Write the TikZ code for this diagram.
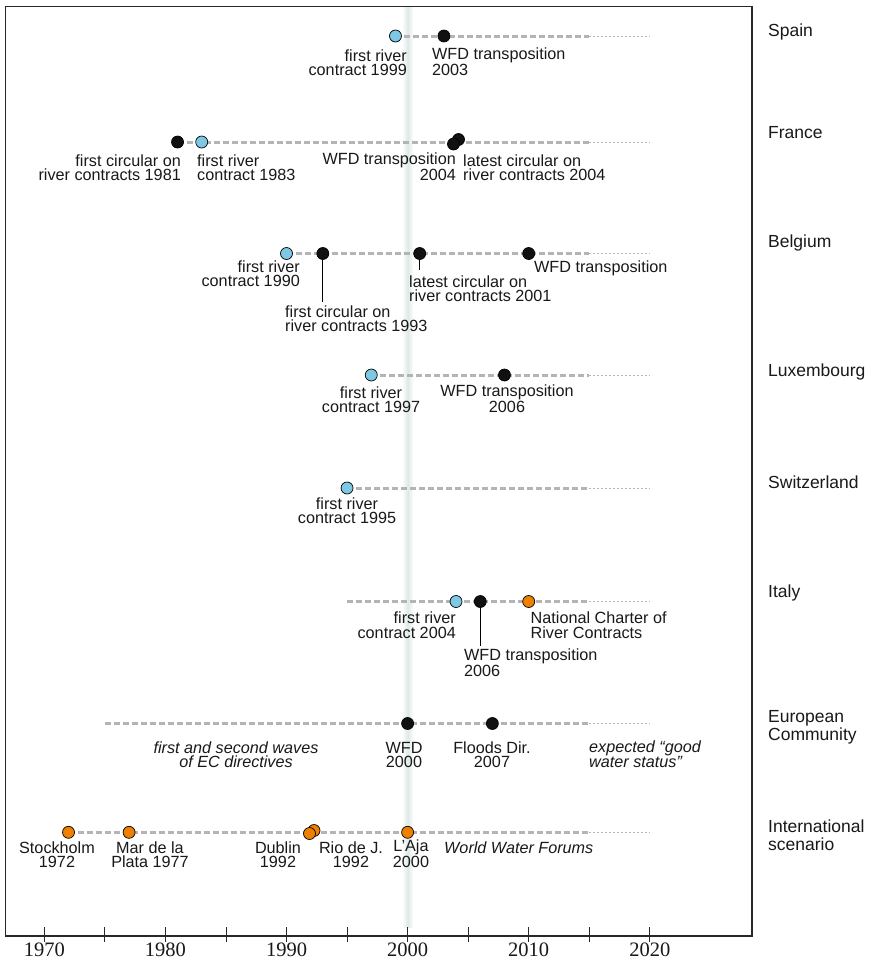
\documentclass[tikz,border=0pt]{standalone}
\usepackage{fontspec}
\setmainfont{Liberation Sans}
\newfontfamily\yearfont{Liberation Serif}
\definecolor{evblue}{RGB}{126,200,227}
\definecolor{evorange}{RGB}{238,128,0}
\definecolor{evblack}{RGB}{17,17,17}
\definecolor{tlgray}{RGB}{180,180,180}
\definecolor{bandc}{RGB}{222,233,231}
\definecolor{framec}{RGB}{40,40,40}
\definecolor{txt}{RGB}{25,25,25}
\begin{document}
\begin{tikzpicture}[x=1pt,y=-1pt,
  ev/.style={circle, draw=black, line width=0.7pt, minimum size=12pt, inner sep=0pt},
  evb/.style={ev, fill=evblue},
  evk/.style={ev, fill=evblack},
  evo/.style={ev, fill=evorange},
  tl/.style={draw=tlgray, line width=3pt, dash pattern=on 6pt off 3pt},
  tlend/.style={draw=tlgray, line width=0.9pt, dash pattern=on 1.5pt off 2.5pt},
  lbl/.style={font=\fontsize{16.2}{14.5}\selectfont, inner sep=0pt, text=txt},
  lbli/.style={lbl, font=\fontsize{16.2}{14.5}\selectfont\itshape},
  ctry/.style={font=\fontsize{17.5}{18.5}\selectfont, inner sep=0pt, anchor=base west, align=left, text=txt},
  lead/.style={draw=black, line width=0.7pt},
  yr/.style={font=\yearfont\fontsize{20.5}{22}\selectfont, inner sep=0pt, anchor=base, text=txt}
]
\useasboundingbox (0,0) rectangle (878,962);
\fill[white] (0,0) rectangle (878,962);

% 2000 band
\shade[left color=white, right color=white, middle color=bandc] (402,7.5) rectangle (413.5,927);

% frame
\draw[framec, line width=1.1pt] (5.5,6.5) rectangle (752,936);

% ticks and years
\foreach \yy in {1970,1975,...,2020}{
  \draw[framec, line width=0.9pt] ({44.3+12.11*(\yy-1970)},927) -- ({44.3+12.11*(\yy-1970)},942);
}
\foreach \yy in {1970,1980,...,2020}{
  \node[yr] (y\yy) at ({44.3+12.11*(\yy-1970)},956) {\yy};
}

% ---- track coordinates
\coordinate (spS) at (395.49,36);   \coordinate (spM) at (589.25,36);   \coordinate (spE) at (649.8,36);
\coordinate (frS) at (177.51,142);  \coordinate (frM) at (589.25,142);  \coordinate (frE) at (649.8,142);
\coordinate (beS) at (286.5,253.5); \coordinate (beM) at (589.25,253.5);\coordinate (beE) at (649.8,253.5);
\coordinate (luS) at (371.27,375);  \coordinate (luM) at (589.25,375);  \coordinate (luE) at (649.8,375);
\coordinate (swS) at (347.05,488);  \coordinate (swM) at (589.25,488);  \coordinate (swE) at (649.8,488);
\coordinate (itS) at (347.05,601.5);\coordinate (itM) at (589.25,601.5);\coordinate (itE) at (649.8,601.5);
\coordinate (ecS) at (104.85,723.5);\coordinate (ecM) at (589.25,723.5);\coordinate (ecE) at (649.8,723.5);
\coordinate (inS) at (68.52,832.3); \coordinate (inM) at (589.25,832.3);\coordinate (inE) at (649.8,832.3);

\foreach \t in {sp,fr,be,lu,sw,it,ec,in}{
  \draw[tl] (\t S) -- (\t M);
  \draw[tlend] (\t M) -- (\t E);
}

% ---- Spain
\node[evb] (sp1) at (395.49,36) {};
\node[evk] (sp2) at (443.93,36) {};
\node[lbl, align=right, anchor=base east] (sp1t) at (407,75.5) {first river\\contract 1999};
\node[lbl, align=left, anchor=base west] (sp2t) at (432,75.5) {WFD transposition\\2003};
\node[ctry] (spc) at (768,36) {Spain};

% ---- France
\node[evk] (fr1) at (177.51,142) {};
\node[evb] (fr2) at (201.73,142) {};
\node[evk] (fr4) at (458.5,139.5) {};
\node[evk] (fr3) at (453.5,144) {};
\node[lbl, align=right, anchor=base east] (fr1t) at (181,180.5) {first circular on\\river contracts 1981};
\node[lbl, align=left, anchor=base west] (fr2t) at (197,180.5) {first river\\contract 1983};
\node[lbl, align=right, anchor=base east] (fr3t) at (456,180.5) {WFD transposition\\2004};
\node[lbl, align=left, anchor=base west] (fr4t) at (463,180.5) {latest circular on\\river contracts 2004};
\node[ctry] (frc) at (768,138) {France};

% ---- Belgium
\coordinate (be2e) at (322.83,302);
\coordinate (be3e) at (419.71,270);
\draw[lead] (322.83,253.5) -- (be2e);
\draw[lead] (419.71,253.5) -- (be3e);
\node[evb] (be1) at (286.5,253.5) {};
\node[evk] (be2) at (322.83,253.5) {};
\node[evk] (be3) at (419.71,253.5) {};
\node[evk] (be4) at (528.7,253.5) {};
\node[lbl, align=right, anchor=base east] (be1t) at (300,286.5) {first river\\contract 1990};
\node[lbl, align=left, anchor=base west] (be2t) at (285,331.5) {first circular on\\river contracts 1993};
\node[lbl, align=left, anchor=base west] (be3t) at (409,301.5) {latest circular on\\river contracts 2001};
\node[lbl, anchor=base west] (be4t) at (534,272) {WFD transposition};
\node[ctry] (bec) at (768,247) {Belgium};

% ---- Luxembourg
\node[evb] (lu1) at (371.27,375) {};
\node[evk] (lu2) at (504.48,375) {};
\node[lbl, align=center, anchor=base] (lu1t) at (371,412.5) {first river\\contract 1997};
\node[lbl, align=center, anchor=base] (lu2t) at (507,412.5) {WFD transposition\\2006};
\node[ctry] (luc) at (768,376) {Luxembourg};

% ---- Switzerland
\node[evb] (sw1) at (347.05,488) {};
\node[lbl, align=center, anchor=base] (sw1t) at (347,523.5) {first river\\contract 1995};
\node[ctry] (swc) at (768,488) {Switzerland};

% ---- Italy
\coordinate (it2e) at (480.26,646);
\draw[lead] (480.26,601.5) -- (it2e);
\node[evb] (it1) at (456.04,601.5) {};
\node[evk] (it2) at (480.26,601.5) {};
\node[evo] (it3) at (528.7,601.5) {};
\node[lbl, align=right, anchor=base east] (it1t) at (456,638) {first river\\contract 2004};
\node[lbl, align=left, anchor=base west] (it2t) at (464,676.5) {WFD transposition\\2006};
\node[lbl, align=left, anchor=base west] (it3t) at (530.5,638) {National Charter of\\River Contracts};
\node[ctry] (itc) at (768,597) {Italy};

% ---- European Community
\node[evk] (ec1) at (407.6,723.5) {};
\node[evk] (ec2) at (492.37,723.5) {};
\node[lbli, align=center, anchor=base] (ec0t) at (236,767.5) {first and second waves\\of EC directives};
\node[lbl, align=center, anchor=base] (ec1t) at (404,767.5) {WFD\\2000};
\node[lbl, align=center, anchor=base] (ec2t) at (492,767.5) {Floods Dir.\\2007};
\node[lbli, align=left, anchor=base west] (ec3t) at (589,767.5) {expected “good\\water status”};
\node[ctry] (ecc) at (768,740.5) {European\\Community};

% ---- International scenario
\node[evo] (in1) at (68.52,832.3) {};
\node[evo] (in2) at (129.07,832.3) {};
\node[evo] (in4) at (314,830.5) {};
\node[evo] (in3) at (309.5,833.5) {};
\node[evo] (in5) at (407.6,832.3) {};
\node[lbl, align=center, anchor=base] (in1t) at (57,867.5) {Stockholm\\1972};
\node[lbl, align=center, anchor=base] (in2t) at (150,867.5) {Mar de la\\Plata 1977};
\node[lbl, align=center, anchor=base] (in3t) at (278,867.5) {Dublin\\1992};
\node[lbl, align=center, anchor=base] (in4t) at (351,867.5) {Rio de J.\\1992};
\node[lbl, align=center, anchor=base] (in5t) at (411,867.5) {L’Aja\\2000};
\node[lbli, anchor=base west] (in6t) at (444,853) {World Water Forums};
\node[ctry] (inc) at (768,850.5) {International\\scenario};
\end{tikzpicture}
\end{document}
